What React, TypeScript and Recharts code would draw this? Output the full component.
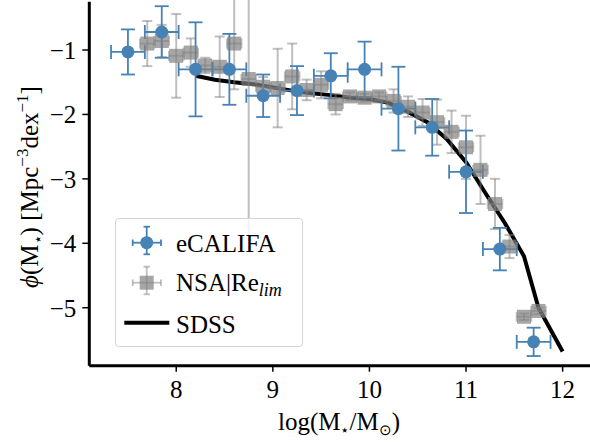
import React from "react";
import {
  ComposedChart,
  Scatter,
  Line,
  XAxis,
  YAxis,
  ErrorBar,
  Legend,
} from "recharts";

// eCALIFA
const califaX = [7.5, 7.85, 8.2, 8.55, 8.9, 9.25, 9.6, 9.95, 10.3, 10.65, 11.0, 11.35, 11.7];
const califaY = [-1.03, -0.72, -1.3, -1.3, -1.71, -1.63, -1.4, -1.3, -1.91, -2.2, -2.89, -4.09, -5.53];
const califaYErr = [0.35, 0.4, 0.73, 0.55, 0.33, 0.38, 0.35, 0.43, 0.65, 0.44, 0.64, 0.33, 0.22];
const califaXErr = [0.175, 0.175, 0.175, 0.175, 0.175, 0.175, 0.175, 0.175, 0.175, 0.175, 0.175, 0.175, 0.175];

// NSA|Re_lim
const nsaX = [7.7, 7.85, 8.0, 8.15, 8.3, 8.45, 8.6, 8.75, 8.9, 9.05, 9.2, 9.35, 9.5, 9.65, 9.8, 9.95, 10.1, 10.25, 10.4, 10.55, 10.7, 10.85, 11.0, 11.15, 11.3, 11.45, 11.6, 11.75];
const nsaY = [-0.9, -0.86, -1.09, -1.04, -1.24, -1.26, -0.9, -1.45, -1.57, -1.59, -1.41, -1.62, -1.54, -1.84, -1.72, -1.74, -1.72, -1.79, -1.88, -1.97, -2.12, -2.27, -2.51, -2.86, -3.39, -4.05, -5.14, -5.05];
const nsaYErr = [0.35, 0.25, 0.65, 0.22, 0.12, 0.47, 0.71, 2.68, 0.15, 0.61, 0.51, 0.16, 0.21, 0.16, 0.06, 0.06, 0.06, 0.18, 0.16, 0.21, 0.35, 0.33, 0.49, 0.53, 0.39, 0.18, 0.05, 0.05];
const nsaXErr = [0.075, 0.075, 0.075, 0.075, 0.075, 0.075, 0.075, 0.075, 0.075, 0.075, 0.075, 0.075, 0.075, 0.075, 0.075, 0.075, 0.075, 0.075, 0.075, 0.075, 0.075, 0.075, 0.075, 0.075, 0.075, 0.075, 0.075, 0.075];

// SDSS
const sdssX = [8.2, 8.4, 8.6, 8.8, 9.0, 9.2, 9.4, 9.6, 9.8, 10.0, 10.2, 10.4, 10.6, 10.8, 11.0, 11.2, 11.4, 11.6, 11.75, 12.0];
const sdssY = [-1.4, -1.46, -1.5, -1.53, -1.58, -1.63, -1.67, -1.7, -1.74, -1.76, -1.82, -1.96, -2.12, -2.38, -2.74, -3.22, -3.68, -4.2, -5.0, -5.68];

const xTicks = [8, 9, 10, 11, 12];
const yTicks = [-5, -4, -3, -2, -1];

const califaData = califaX.map((x, i) => ({ x, y: califaY[i], ey: califaYErr[i], ex: califaXErr[i] }));
const nsaData = nsaX.map((x, i) => ({ x, y: nsaY[i], ey: nsaYErr[i], ex: nsaXErr[i] }));
const sdssData = sdssX.map((x, i) => ({ x, y: sdssY[i] }));

const FONT = "Liberation Serif";
const BLUE = "#4682b4";
const FS = 25;

const fmt = (v: number) => String(v).replace("-", "\u2212");

const BlueDot = (p: any) => <circle cx={p.cx} cy={p.cy} r={6.5} fill={BLUE} />;
const GraySq = (p: any) => (
  <rect x={p.cx - 7} y={p.cy - 7} width={14} height={14} fill="gray" fillOpacity={0.7} />
);

const LegendBox = () => (
  <div
    style={{
      width: 188,
      height: 129,
      boxSizing: "border-box",
      border: "1px solid #d4d4d4",
      borderRadius: 4,
      background: "rgba(255,255,255,0.8)",
    }}
  >
    <svg width={186} height={127} style={{ display: "block" }}>
      <g stroke={BLUE} strokeWidth={1.8}>
        <line x1={16.7} y1={23.7} x2={45} y2={23.7} />
        <line x1={30.7} y1={7.7} x2={30.7} y2={35.3} />
        <line x1={16.7} y1={20.5} x2={16.7} y2={27} />
        <line x1={45} y1={20.5} x2={45} y2={27} />
        <line x1={27.5} y1={7.7} x2={34} y2={7.7} />
        <line x1={27.5} y1={35.3} x2={34} y2={35.3} />
      </g>
      <circle cx={30.7} cy={23.7} r={6.5} fill={BLUE} />
      <text x={60} y={32.7} style={{ fontFamily: FONT }} fontSize={FS}>eCALIFA</text>
      <g stroke="rgba(128,128,128,0.5)" strokeWidth={1.8}>
        <line x1={16.7} y1={63.7} x2={45} y2={63.7} />
        <line x1={30.7} y1={47.7} x2={30.7} y2={75.3} />
        <line x1={16.7} y1={60.5} x2={16.7} y2={67} />
        <line x1={45} y1={60.5} x2={45} y2={67} />
        <line x1={27.5} y1={47.7} x2={34} y2={47.7} />
        <line x1={27.5} y1={75.3} x2={34} y2={75.3} />
      </g>
      <rect x={23.7} y={56.7} width={14} height={14} fill="gray" fillOpacity={0.7} />
      <text x={60} y={72} style={{ fontFamily: FONT }} fontSize={FS}>
        NSA|Re
        <tspan dy={5} fontSize={18} fontStyle="italic">lim</tspan>
      </text>
      <line x1={8.3} y1={103.7} x2={53.3} y2={103.7} stroke="#000" strokeWidth={4} />
      <text x={60} y={113.7} style={{ fontFamily: FONT }} fontSize={FS}>SDSS</text>
    </svg>
  </div>
);

const XLabel = (props: any) => {
  const vb = props.viewBox || { x: 0, width: 0 };
  const cx = vb.x + vb.width / 2 - 1.5;
  return (
    <text x={cx} y={430} textAnchor="middle" style={{ fontFamily: FONT }} fontSize={FS} fill="#000">
      log(M
      <tspan dy={5} fontSize={15}>{"\u22C6"}</tspan>
      <tspan dy={-5} fontSize={FS}>/M</tspan>
      <tspan dy={5} fontSize={15}>{"\u2299"}</tspan>
      <tspan dy={-5} fontSize={FS}>)</tspan>
    </text>
  );
};

const YLabel = () => {
  const x = 38;
  const y = 187;
  return (
    <text
      x={x}
      y={y}
      textAnchor="middle"
      style={{ fontFamily: FONT }}
      fontSize={FS}
      fill="#000"
      transform={`rotate(-90 ${x} ${y})`}
    >
      <tspan fontStyle="italic">{"\u03D5"}</tspan>(M
      <tspan dy={5} fontSize={15}>{"\u22C6"}</tspan>
      <tspan dy={-5} fontSize={FS}>) [Mpc</tspan>
      <tspan dy={-10} fontSize={17}>{"\u22123"}</tspan>
      <tspan dy={10} fontSize={FS}>dex</tspan>
      <tspan dy={-10} fontSize={17}>{"\u22121"}</tspan>
      <tspan dy={10} fontSize={FS}>]</tspan>
    </text>
  );
};

export default function App() {
  return (
    <div style={{ width: 590, height: 442, position: "relative", background: "#fff" }}>
      <style>{`body{margin:0;background:#fff;}`}</style>
      <ComposedChart
        width={590}
        height={442}
        margin={{ top: 1.7, right: -1.6, bottom: 0.3, left: 0 }}
      >
        <XAxis
          dataKey="x"
          type="number"
          domain={[7.1, 12.3]}
          ticks={xTicks}
          allowDataOverflow
          height={76}
          tickSize={6}
          tickMargin={9}
          axisLine={{ stroke: "#000", strokeWidth: 3 }}
          tickLine={{ stroke: "#000", strokeWidth: 1.5 }}
          tick={{ fill: "#000", fontFamily: FONT, fontSize: FS }}
          tickFormatter={fmt}
          label={<XLabel />}
        />
        <XAxis
          xAxisId="top"
          orientation="top"
          dataKey="x"
          type="number"
          domain={[7.1, 12.3]}
          height={0}
          tick={false}
          tickLine={false}
          axisLine={{ stroke: "#000", strokeWidth: 3 }}
        />
        <YAxis
          dataKey="y"
          type="number"
          domain={[-5.9, -0.25]}
          ticks={yTicks}
          allowDataOverflow
          width={89.3}
          tickSize={7}
          tickMargin={6}
          axisLine={{ stroke: "#000", strokeWidth: 3 }}
          tickLine={{ stroke: "#000", strokeWidth: 1.5 }}
          tick={{ fill: "#000", fontFamily: FONT, fontSize: FS }}
          tickFormatter={fmt}
          label={<YLabel />}
        />
        <Line
          data={sdssData}
          dataKey="y"
          stroke="#000"
          strokeWidth={4}
          dot={false}
          activeDot={false}
          isAnimationActive={false}
          legendType="none"
        />
        <Scatter data={nsaData} dataKey="y" shape={GraySq} isAnimationActive={false}>
          <ErrorBar dataKey="ey" direction="y" width={5} stroke="rgba(128,128,128,0.5)" strokeWidth={2} />
          <ErrorBar dataKey="ex" direction="x" width={5} stroke="rgba(128,128,128,0.5)" strokeWidth={2} />
        </Scatter>
        <Scatter data={califaData} dataKey="y" shape={BlueDot} isAnimationActive={false}>
          <ErrorBar dataKey="ey" direction="y" width={7} stroke={BLUE} strokeWidth={1.8} />
          <ErrorBar dataKey="ex" direction="x" width={7} stroke={BLUE} strokeWidth={1.8} />
        </Scatter>
        <Legend
          layout="vertical"
          align="center"
          verticalAlign="middle"
          content={() => <LegendBox />}
          wrapperStyle={{ position: "absolute", left: 115, top: 218, width: 188, height: 129 }}
        />
      </ComposedChart>
    </div>
  );
}
